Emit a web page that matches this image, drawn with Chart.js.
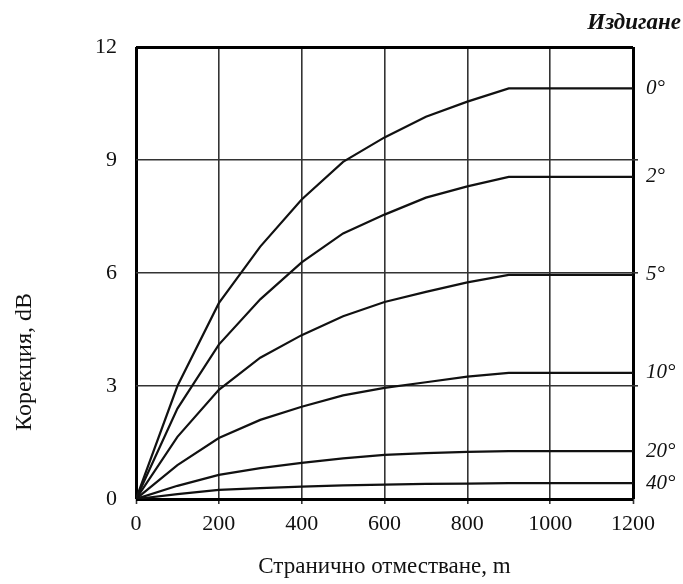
<!DOCTYPE html>
<html>
<head>
<meta charset="utf-8">
<script src="https://cdn.jsdelivr.net/npm/chart.js@4"></script>
<style>
  html, body { margin: 0; padding: 0; background: #fff; }
  canvas { display: block; }
</style>
</head>
<body>
<canvas id="c" width="683" height="584"></canvas>
<script>
// ---- data ----
const distances = [0, 100, 200, 300, 400, 500, 600, 700, 800, 900, 1200];
const elevationLabels = ['0°', '2°', '5°', '10°', '20°', '40°'];
const corr0  = [0, 3.0, 5.2, 6.7, 7.95, 8.95, 9.6, 10.15, 10.55, 10.9, 10.9];
const corr2  = [0, 2.4, 4.1, 5.3, 6.28, 7.05, 7.55, 8.0, 8.3, 8.55, 8.55];
const corr5  = [0, 1.65, 2.9, 3.75, 4.35, 4.85, 5.23, 5.5, 5.75, 5.95, 5.95];
const corr10 = [0, 0.9, 1.62, 2.1, 2.45, 2.75, 2.95, 3.1, 3.25, 3.35, 3.35];
const corr20 = [0, 0.35, 0.64, 0.82, 0.96, 1.08, 1.17, 1.22, 1.25, 1.27, 1.27];
const corr40 = [0, 0.13, 0.24, 0.29, 0.33, 0.36, 0.38, 0.4, 0.41, 0.42, 0.42];
const xTicks = [0, 200, 400, 600, 800, 1000, 1200];
const yTicks = [0, 3, 6, 9, 12];
const xTitle = 'Странично отместване, m';
const yTitle = 'Корекция, dB';
const legendTitle = 'Издигане';

const seriesValues = [corr0, corr2, corr5, corr10, corr20, corr40];

const datasets = seriesValues.map((vals, i) => ({
  label: elevationLabels[i],
  data: distances.map((d, j) => ({ x: d, y: vals[j] })),
  borderColor: '#111',
  borderWidth: 2.2,
  pointRadius: 0,
  tension: 0,
  fill: false
}));

const SERIF = '"Liberation Serif", "Times New Roman", serif';

const annotations = {
  id: 'annotations',
  afterDraw(chart) {
    const ctx = chart.ctx;
    const y = chart.scales.y;
    ctx.save();
    ctx.fillStyle = '#111';
    // series labels on the right
    ctx.font = 'italic 21px ' + SERIF;
    ctx.textAlign = 'left';
    ctx.textBaseline = 'middle';
    seriesValues.forEach((vals, i) => {
      const py = y.getPixelForValue(vals[vals.length - 1]);
      ctx.fillText(elevationLabels[i], chart.chartArea.right + 13, py);
    });
    // legend title
    ctx.font = 'italic bold 23px ' + SERIF;
    ctx.textAlign = 'right';
    ctx.fillText(legendTitle, 681, 23);
    // y title
    ctx.font = '24px ' + SERIF;
    ctx.textAlign = 'center';
    ctx.translate(25, 362);
    ctx.rotate(-Math.PI / 2);
    ctx.fillText(yTitle, 0, 0);
    ctx.restore();
  }
};

const isEdge = (v, lo, hi) => v === lo || v === hi;

new Chart(document.getElementById('c'), {
  type: 'line',
  data: { datasets },
  options: {
    responsive: false,
    animation: false,
    devicePixelRatio: 1,
    layout: { padding: { top: 47, left: 0, right: 0, bottom: 0 } },
    plugins: { legend: { display: false }, tooltip: { enabled: false } },
    scales: {
      x: {
        type: 'linear',
        min: 0, max: 1200,
        afterBuildTicks: s => { s.ticks = xTicks.map(v => ({ value: v })); },
        afterFit: s => { s.height = 85; },
        border: { display: false },
        grid: {
          color: c => isEdge(c.tick && c.tick.value, 0, 1200) ? '#000' : '#333',
          lineWidth: c => isEdge(c.tick && c.tick.value, 0, 1200) ? 3 : 1.6,
          drawTicks: true,
          tickLength: 5,
          tickColor: '#333',
          tickWidth: 1.6
        },
        ticks: {
          color: '#111',
          padding: 7,
          font: { family: SERIF, size: 22 },
          maxRotation: 0,
          callback: v => String(v)
        },
        title: {
          display: true,
          text: xTitle,
          color: '#111',
          font: { family: SERIF, size: 23 },
          padding: { top: 0, bottom: 3 }
        }
      },
      y: {
        type: 'linear',
        min: 0, max: 12,
        afterBuildTicks: s => { s.ticks = yTicks.map(v => ({ value: v })); },
        afterFit: s => { s.width = 136; },
        border: { display: false },
        grid: {
          color: c => isEdge(c.tick && c.tick.value, 0, 12) ? '#000' : '#333',
          lineWidth: c => isEdge(c.tick && c.tick.value, 0, 12) ? 3 : 1.6,
          drawTicks: false
        },
        ticks: {
          color: '#111',
          padding: 19,
          font: { family: SERIF, size: 22 },
          callback: v => String(v)
        }
      },
      y2: {
        type: 'linear',
        position: 'right',
        min: 0, max: 12,
        afterBuildTicks: s => { s.ticks = [3, 6, 9].map(v => ({ value: v })); },
        afterFit: s => { s.width = 50; },
        border: { display: false },
        grid: {
          drawOnChartArea: false,
          drawTicks: true,
          tickLength: 5,
          color: '#333',
          lineWidth: 1.6
        },
        ticks: { display: false }
      }
    }
  },
  plugins: [annotations]
});
</script>
</body>
</html>
